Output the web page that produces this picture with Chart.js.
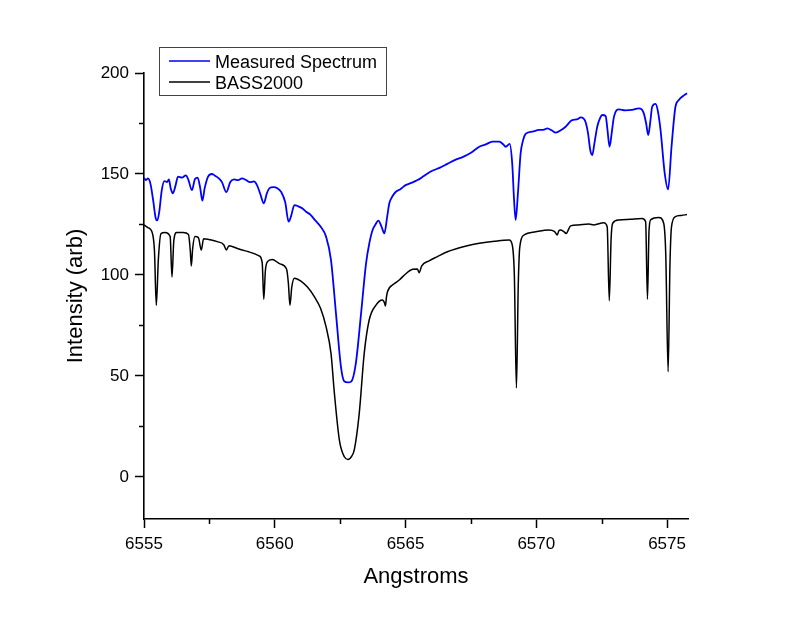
<!DOCTYPE html>
<html>
<head>
<meta charset="utf-8">
<script src="https://cdn.jsdelivr.net/npm/chart.js@4/dist/chart.umd.min.js"></script>
<style>
  html, body { margin: 0; padding: 0; background: #ffffff; }
  canvas { display: block; }
</style>
</head>
<body>
<canvas id="c" width="800" height="623"></canvas>
<script>
// ---- Data ----
const measuredX = [6555.00,6555.08,6555.15,6555.25,6555.35,6555.45,6555.51,6555.58,6555.68,6555.78,6555.88,6555.95,6556.02,6556.10,6556.20,6556.30,6556.45,6556.60,6556.70,6556.83,6556.95,6557.05,6557.15,6557.23,6557.32,6557.45,6557.60,6557.70,6557.85,6557.98,6558.15,6558.30,6558.45,6558.60,6558.75,6558.90,6559.05,6559.20,6559.32,6559.45,6559.58,6559.70,6559.80,6559.95,6560.10,6560.25,6560.40,6560.53,6560.62,6560.75,6560.90,6561.05,6561.20,6561.35,6561.55,6561.75,6561.96,6562.15,6562.34,6562.53,6562.65,6562.80,6562.92,6563.10,6563.30,6563.49,6563.62,6563.74,6563.85,6563.96,6564.08,6564.19,6564.30,6564.38,6564.50,6564.63,6564.80,6565.00,6565.20,6565.46,6565.70,6566.00,6566.30,6566.60,6566.90,6567.20,6567.50,6567.82,6568.05,6568.32,6568.58,6568.75,6568.83,6568.98,6569.08,6569.15,6569.21,6569.30,6569.40,6569.50,6569.60,6569.85,6570.10,6570.30,6570.42,6570.60,6570.74,6570.95,6571.12,6571.37,6571.55,6571.70,6571.80,6571.88,6571.98,6572.06,6572.14,6572.22,6572.33,6572.45,6572.52,6572.65,6572.72,6572.80,6572.88,6572.97,6573.16,6573.40,6573.66,6573.92,6574.03,6574.11,6574.20,6574.28,6574.36,6574.43,6574.56,6574.65,6574.75,6574.91,6575.04,6575.17,6575.32,6575.45,6575.60,6575.76];
const measuredY = [148,147,147.8,145,137,128,127,131,142,146.5,146,147.3,143,140.4,144,148.7,148.2,149.3,147,142,147.5,148.2,143,136.8,143,148.7,150,149.3,148,146,141,146,147.3,147,147.8,147,146,146.3,144.5,140,135.5,140.5,143,143.5,143,141,136,126.4,129,134.6,134,133,131.3,130,127,124,119,107.4,81,54.6,47.5,46.8,47.2,56.3,81,105.8,116,122.3,125,126.9,124,120.6,129,135.5,139,141.2,142.5,144.5,145.5,147,149,151.5,153,155,157,158.5,160.5,163.5,164.5,166,166,164.5,163.5,164.9,155,137,127.2,141,160.2,167,170,171,171.8,172,172.6,171.5,170.5,171.8,173.4,176.7,177,178,177.5,175.9,170,162,159.4,165,173.4,178,179.2,178.7,172,163.5,170,178.4,182,181.5,181.7,182.5,182,180,175,169.3,176,183.3,184.7,181,171.8,150.3,142.4,163.5,183.3,186.6,188.5,190];

const bassX = [6555.00,6555.15,6555.30,6555.40,6555.47,6555.55,6555.65,6555.80,6556.00,6556.07,6556.14,6556.25,6556.50,6556.70,6556.77,6556.81,6556.86,6556.95,6557.08,6557.19,6557.28,6557.50,6557.80,6558.05,6558.15,6558.25,6558.60,6559.00,6559.40,6559.52,6559.58,6559.64,6559.72,6559.90,6560.20,6560.45,6560.52,6560.58,6560.65,6560.75,6561.00,6561.25,6561.50,6561.75,6561.96,6562.15,6562.28,6562.47,6562.66,6562.80,6562.95,6563.04,6563.23,6563.42,6563.61,6563.87,6564.12,6564.20,6564.23,6564.27,6564.31,6564.55,6564.76,6565.00,6565.27,6565.45,6565.52,6565.62,6565.90,6566.22,6566.60,6567.00,6567.40,6567.82,6568.40,6568.96,6569.08,6569.16,6569.24,6569.31,6569.37,6569.53,6569.98,6570.48,6570.70,6570.80,6570.86,6570.93,6571.05,6571.14,6571.31,6571.60,6572.01,6572.20,6572.58,6572.71,6572.79,6572.86,6572.92,6573.16,6573.60,6574.05,6574.18,6574.25,6574.31,6574.38,6574.68,6574.87,6574.95,6575.04,6575.11,6575.17,6575.32,6575.55,6575.76];
const bassY = [124.8,123.5,121.5,112,85,108,120.5,121,119,99,117,121,121,120,112,104.5,113,119,118.5,112.4,118,117.5,116.5,115,112.4,114.5,113,111.5,109.5,106,88,102,106.6,107.7,105.5,103,96,85,94,98.4,97,94,89.5,83.5,74.4,61.2,41.4,18.3,10,8.7,10.5,13.4,31.5,61.2,77.7,85.1,87.6,86,84.7,89,91.7,95.5,97.5,100.5,102.8,103,101.1,104.5,107,109.1,111.5,113.2,114.6,115.7,116.7,117.3,114.9,100,44,95,114,119.8,121.4,122.3,121.5,119.8,121.8,122.3,121.5,120.6,124.3,124.8,125.2,124.8,125.9,123.9,87.3,118,125.6,127.2,127.6,128,126.4,88,122,127.4,128.5,125.6,110,52.1,105,123.9,128.9,129.5,129.9];

const seriesLabels = ['Measured Spectrum', 'BASS2000'];
const seriesColors = ['#0000ff', '#000000'];
const xMajorTicks = [6555, 6560, 6565, 6570, 6575];
const xMinorTicks = [6557.5, 6562.5, 6567.5, 6572.5];
const yMajorTicks = [0, 50, 100, 150, 200];
const yMinorTicks = [25, 75, 125, 175];

const toPoints = (xs, ys) => xs.map((x, i) => ({ x: x, y: ys[i] }));

const FONT = "'Liberation Sans', Arial, sans-serif";

const extras = {
  id: 'extras',
  afterDraw(chart) {
    const ctx = chart.ctx;
    const xs = chart.scales.x, ys = chart.scales.y;
    ctx.save();
    // minor ticks
    ctx.strokeStyle = '#000';
    ctx.lineWidth = 1.5;
    ctx.beginPath();
    xMinorTicks.forEach(v => {
      const px = Math.round(xs.getPixelForValue(v)) + 0.5;
      ctx.moveTo(px, xs.top);
      ctx.lineTo(px, xs.top + 5);
    });
    yMinorTicks.forEach(v => {
      const py = Math.round(ys.getPixelForValue(v)) + 0.5;
      ctx.moveTo(ys.right, py);
      ctx.lineTo(ys.right - 5, py);
    });
    ctx.stroke();

    // legend box
    const bx = 159.5, by = 47.5, bw = 227, bh = 48;
    ctx.fillStyle = '#ffffff';
    ctx.fillRect(bx, by, bw, bh);
    ctx.strokeStyle = '#444';
    ctx.lineWidth = 1;
    ctx.strokeRect(bx, by, bw, bh);
    ctx.font = '18px ' + FONT;
    ctx.textBaseline = 'alphabetic';
    ctx.textAlign = 'left';
    chart.data.datasets.forEach((ds, i) => {
      const ly = 61 + i * 21;
      ctx.strokeStyle = ds.borderColor;
      ctx.lineWidth = 1.5;
      ctx.beginPath();
      ctx.moveTo(169, ly);
      ctx.lineTo(210, ly);
      ctx.stroke();
      ctx.fillStyle = '#000';
      ctx.fillText(ds.label, 215, ly + 6.5);
    });
    ctx.restore();
  }
};

new Chart(document.getElementById('c'), {
  type: 'line',
  data: {
    datasets: [
      {
        label: seriesLabels[0],
        data: toPoints(measuredX, measuredY),
        borderColor: seriesColors[0],
        borderWidth: 1.8,
        pointRadius: 0,
        fill: false,
        cubicInterpolationMode: 'monotone'
      },
      {
        label: seriesLabels[1],
        data: toPoints(bassX, bassY),
        borderColor: seriesColors[1],
        borderWidth: 1.5,
        pointRadius: 0,
        fill: false,
        cubicInterpolationMode: 'monotone'
      }
    ]
  },
  options: {
    responsive: false,
    animation: false,
    devicePixelRatio: 1,
    layout: { padding: { top: 73, right: 112, left: 0, bottom: 0 } },
    plugins: {
      legend: { display: false },
      tooltip: { enabled: false }
    },
    scales: {
      x: {
        type: 'linear',
        min: 6555,
        max: 6575.8,
        afterFit: s => { s.height = 104; },
        afterBuildTicks: s => { s.ticks = xMajorTicks.map(v => ({ value: v })); },
        ticks: {
          color: '#000',
          font: { family: FONT, size: 17 },
          padding: 6,
          maxRotation: 0,
          autoSkip: false,
          callback: v => String(v)
        },
        grid: {
          display: true,
          drawOnChartArea: false,
          drawTicks: true,
          tickLength: 9,
          tickWidth: 1.5,
          tickColor: '#000'
        },
        border: { display: true, color: '#000', width: 1.6 },
        title: {
          display: true,
          text: 'Angstroms',
          color: '#000',
          font: { family: FONT, size: 22 },
          padding: { top: 0, bottom: 33 }
        }
      },
      y: {
        type: 'linear',
        min: -20.8,
        max: 200,
        afterFit: s => { s.width = 144; },
        afterBuildTicks: s => { s.ticks = yMajorTicks.map(v => ({ value: v })); },
        ticks: {
          color: '#000',
          font: { family: FONT, size: 17 },
          padding: 6,
          autoSkip: false,
          callback: v => String(v)
        },
        grid: {
          display: true,
          drawOnChartArea: false,
          drawTicks: true,
          tickLength: 9,
          tickWidth: 1.5,
          tickColor: '#000'
        },
        border: { display: true, color: '#000', width: 1.6 },
        title: {
          display: true,
          text: 'Intensity (arb)',
          color: '#000',
          font: { family: FONT, size: 22 },
          padding: { top: 63, bottom: 0 }
        }
      }
    }
  },
  plugins: [extras]
});
</script>
</body>
</html>
